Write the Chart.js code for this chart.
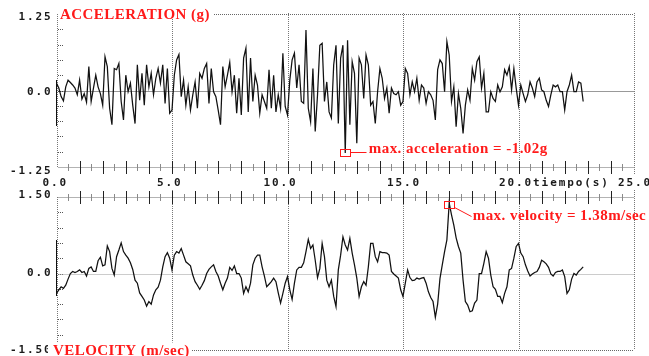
<!DOCTYPE html>
<html><head><meta charset="utf-8">
<script src="https://cdn.jsdelivr.net/npm/chart.js@4/dist/chart.umd.min.js"></script>
<style>
html,body{margin:0;padding:0;background:#fff;}
#wrap{position:relative;width:649px;height:356px;overflow:hidden;background:#fff;}
canvas{position:absolute;left:0;top:0;}
</style></head><body>
<div id="wrap"><canvas id="acc" width="649" height="356"></canvas><canvas id="vel" width="649" height="356"></canvas></div>
<script>
// sampling step of the records (s)
const DT = 0.1;
// acceleration record (g), one value every DT seconds from t = 0
const accG = [
 0.12, 0.04,-0.10,-0.17, 0.06, 0.17, 0.13, 0.09, 0.04,-0.07,
 0.17,-0.14,-0.05,-0.19, 0.39,-0.18, 0.04, 0.25, 0.06,-0.05,
-0.24, 0.55, 0.39,-0.29,-0.56, 0.36, 0.34, 0.44,-0.18,-0.48,
 0.25,-0.02, 0.12,-0.24,-0.54, 0.42,-0.16, 0.28,-0.24, 0.42,
 0.06, 0.28,-0.07, 0.20, 0.36, 0.12, 0.42,-0.21, 0.36,-0.37,
-0.32, 0.25, 0.50, 0.59,-0.10, 0.17,-0.24, 0.06,-0.32,-0.07,
 0.14,-0.29, 0.28, 0.20, 0.36, 0.44,-0.21, 0.36,-0.02,-0.10,
-0.32,-0.56, 0.39, 0.06, 0.25, 0.46,-0.02, 0.25,-0.37, 0.20,
-0.40, 0.53, 0.69,-0.35, 0.53,-0.18, 0.25, 0.09,-0.37,-0.07,
-0.18,-0.29, 0.34,-0.29, 0.25,-0.35,-0.07,-0.29, 0.61,-0.26,
-0.40, 0.17, 0.50, 0.61, 0.04, 0.42,-0.18,-0.21, 0.99,-0.29,
-0.51, 0.36,-0.67,-0.07, 0.74, 0.77,-0.18, 0.14,-0.35,-0.45,
 0.42, 0.74,-0.54, 0.53, 0.74,-1.02, 0.82,-0.56, 0.47, 0.28,
-0.86, 0.53, 0.42,-0.13, 0.58, 0.42,-0.24,-0.18,-0.54,-0.02,
 0.36, 0.20,-0.13, 0.04,-0.37, 0.04,-0.05,-0.07,-0.02,-0.24,
-0.18, 0.36, 0.28,-0.07, 0.14,-0.02, 0.20,-0.16, 0.09, 0.04,
-0.21,-0.02,-0.07,-0.16,-0.48, 0.34, 0.50, 0.44,-0.02, 0.80,
 0.58,-0.18, 0.06,-0.59,-0.05,-0.29,-0.70,-0.24, 0.01,-0.16,
 0.36, 0.17, 0.47, 0.55, 0.04, 0.28,-0.35,-0.35,-0.02,-0.13,
-0.18, 0.09,-0.02, 0.06, 0.34, 0.25, 0.39, 0.01, 0.36, 0.04,
-0.24, 0.09,-0.05,-0.18,-0.07, 0.14, 0.04,-0.10, 0.14, 0.20,
 0.01,-0.02,-0.16,-0.26,-0.07, 0.09, 0.06, 0.09,-0.02,-0.02,
-0.32,-0.02, 0.09, 0.25,-0.02,-0.02, 0.14, 0.12,-0.18
];
// velocity record (m/sec), one value every DT seconds from t = 0
const velMS = [
-0.39,-0.32,-0.26,-0.29,-0.23,-0.11, 0.00, 0.04, 0.02, 0.04,
 0.07, 0.02, 0.04,-0.05, 0.10, 0.13, 0.04, 0.04, 0.25, 0.32,
 0.15, 0.17, 0.54, 0.43, 0.10,-0.03, 0.33, 0.46, 0.60, 0.43,
 0.36, 0.30, 0.21, 0.08,-0.13,-0.19,-0.38,-0.45,-0.52,-0.64,
-0.55,-0.60,-0.42,-0.32,-0.27,-0.13, 0.13, 0.33, 0.41, 0.30,
 0.07, 0.36, 0.43, 0.40, 0.49, 0.36, 0.23, 0.19, 0.15,-0.03,
-0.16,-0.23,-0.31,-0.23,-0.14, 0.00, 0.08, 0.13, 0.17, 0.04,
-0.05,-0.19,-0.32,-0.19,-0.09, 0.12, 0.06, 0.15, 0.00, 0.00,
-0.09,-0.39,-0.26,-0.36,-0.19, 0.17, 0.30, 0.36, 0.36, 0.13,
-0.05,-0.26,-0.21,-0.16,-0.09,-0.16,-0.38,-0.58,-0.39,-0.19,
-0.06,-0.32,-0.51,-0.19, 0.07, 0.12, 0.12, 0.21, 0.43, 0.67,
 0.49, 0.56, 0.26,-0.08, 0.10, 0.59, 0.33,-0.13,-0.26,-0.13,
-0.45,-0.65, 0.07, 0.36, 0.72, 0.56, 0.46, 0.69, 0.40, 0.17,
-0.09,-0.45,-0.26,-0.16,-0.23, 0.13, 0.59, 0.59, 0.33, 0.23,
 0.43, 0.41, 0.41, 0.40, 0.36, 0.04,-0.01,-0.05,-0.09,-0.32,
-0.45,-0.19, 0.07,-0.08,-0.14,-0.13,-0.09,-0.11,-0.09,-0.08,
-0.19,-0.36,-0.47,-0.55,-0.86,-0.60,-0.10, 0.17, 0.43, 0.66,
 1.38, 1.15, 0.95, 0.70, 0.53, 0.40,-0.13,-0.55,-0.62,-0.75,
-0.73,-0.58,-0.52, 0.00, 0.00, 0.20, 0.43, 0.30,-0.03,-0.26,
-0.31,-0.45,-0.45,-0.57,-0.39,-0.26, 0.07, 0.10, 0.30, 0.53,
 0.59, 0.40, 0.33, 0.17, 0.05,-0.05,-0.01, 0.02, 0.04, 0.12,
 0.26, 0.23, 0.19, 0.12,-0.01,-0.05, 0.02, 0.04, 0.04, 0.07,
-0.06,-0.39,-0.32,-0.11, 0.00,-0.03, 0.04, 0.08, 0.13
];
// axis texts
const xTickValues = [0, 5, 10, 15, 20, 25];
const xTickLabels = ['0.0', '5.0', '10.0', '15.0', '20.0', '25.0'];
const xTitle = 'tiempo(s)';
const accYTicks = [1.25, 0, -1.25];
const accYLabels = ['1.25', '0.0', '-1.25'];
const velYTicks = [1.5, 0, -1.5];
const velYLabels = ['1.50', '0.0', '-1.50'];
const accTitle = 'ACCELERATION (g)';
const velTitle = 'VELOCITY (m/sec)';

const MONO = 'bold 11px "DejaVu Sans Mono", monospace';
const SERIF = 'bold 15px "Liberation Serif", "Times New Roman", serif';
const RED = '#ff1a1a';

function toPoints(arr){ return arr.map((v,i)=>({x: Math.round(i*DT*100)/100, y: v})); }
function peakIndex(arr){ let k=0; arr.forEach((v,i)=>{ if(Math.abs(v)>Math.abs(arr[k])) k=i; }); return k; }

function dotH(ctx,x1,x2,y,color){ ctx.save(); ctx.strokeStyle=color; ctx.lineWidth=1; ctx.setLineDash([1,1]); ctx.beginPath(); ctx.moveTo(x1,Math.round(y)+0.5); ctx.lineTo(x2,Math.round(y)+0.5); ctx.stroke(); ctx.restore(); }
function dotV(ctx,x,y1,y2,color){ ctx.save(); ctx.strokeStyle=color; ctx.lineWidth=1; ctx.setLineDash([1,1]); ctx.beginPath(); ctx.moveTo(Math.round(x)+0.5,y1); ctx.lineTo(Math.round(x)+0.5,y2); ctx.stroke(); ctx.restore(); }
function monoText(ctx,txt,x,y,align){ ctx.save(); ctx.font=MONO; ctx.fillStyle='#1a1a1a'; ctx.letterSpacing='1.9px'; ctx.textAlign=align||'left'; ctx.textBaseline='middle'; ctx.fillText(txt,x,y); ctx.restore(); }
function serifText(ctx,txt,x,y,bg){ ctx.save(); ctx.font=SERIF; ctx.letterSpacing='0.45px'; const w=ctx.measureText(txt).width; if(bg){ ctx.fillStyle='#fff'; ctx.fillRect(x-5,y-12,w+7,16); } ctx.fillStyle=RED; ctx.textBaseline='alphabetic'; ctx.fillText(txt,x,y); ctx.restore(); return w; }

function decor(cfg){
  return {
    id:'decor',
    beforeDatasetsDraw(chart){
      const ctx=chart.ctx, xs=chart.scales.x, ys=chart.scales.y, a=chart.chartArea;
      const L=a.left, R=a.right, T=a.top, B=a.bottom;
      // left axis
      dotV(ctx,L,T,B,'#777');
      ctx.fillStyle='#111'; ctx.fillRect(Math.round(L)-1,cfg.solid[0],1,cfg.solid[1]-cfg.solid[0]);
      // small y ticks
      ctx.fillStyle='#555';
      for(let i=1;i<10;i++){ const v=ys.min+(ys.max-ys.min)*i/10; const y=Math.round(ys.getPixelForValue(v)); ctx.fillRect(L+1.5,y,1,1); ctx.fillRect(L+3.5,y,1,1); ctx.fillRect(L+5.5,y,1,1); }
      // zero line
      dotH(ctx,L+2,R,ys.getPixelForValue(0),cfg.zeroColor);
      // frame line next to title
      dotH(ctx,cfg.frameX,R,cfg.frameY,'#666');
      // vertical grid
      xTickValues.slice(1).forEach(v=>dotV(ctx,xs.getPixelForValue(v),cfg.gridY[0],cfg.gridY[1],'#777'));
      // tick row
      const ty=cfg.tickRowY;
      dotH(ctx,L+2,R,ty,'#666');
      for(let h=1;h<50;h++){
        const x=Math.round(xs.getPixelForValue(h/2));
        if(h%2===0){ ctx.fillStyle='#222'; ctx.fillRect(x,ty-6,1,13); }
        else { ctx.fillStyle='#8a8a8a'; ctx.fillRect(x,ty-3,1,7); }
      }
    },
    afterDatasetsDraw(chart){
      const ctx=chart.ctx, xs=chart.scales.x, ys=chart.scales.y;
      // y labels
      cfg.yTicks.forEach((v,i)=>monoText(ctx,cfg.yLabels[i],52.5,ys.getPixelForValue(v)+cfg.yLabOff[i],'right'));
      // title
      serifText(ctx,cfg.title,cfg.titleX,cfg.titleY,cfg.titleBg);
      // x labels (drawn by top chart)
      if(cfg.xLabels){
        const offs=[-14,-15,-24,-16,-19.5,-16];
        xTickValues.forEach((v,i)=>monoText(ctx,xTickLabels[i],xs.getPixelForValue(v)+offs[i],183,'left'));
        ctx.save(); ctx.font=MONO; ctx.letterSpacing='1.9px';
        const w=ctx.measureText(xTickLabels[4]).width; ctx.restore();
        monoText(ctx,xTitle,xs.getPixelForValue(20)-19.5+w,183,'left');
      }
      // peak annotation
      const data=cfg.values, k=peakIndex(data);
      const px=xs.getPixelForValue(k*DT), py=ys.getPixelForValue(data[k]);
      ctx.save(); ctx.strokeStyle=RED; ctx.lineWidth=1;
      const bx=Math.round(px-5)+0.5, by=Math.round(py-3.5+cfg.boxDy)+0.5;
      ctx.strokeRect(bx,by,10,7);
      ctx.beginPath();
      if(cfg.diag){ ctx.moveTo(bx+10,by+6); ctx.lineTo(bx+27,by+15); }
      else { ctx.moveTo(bx+10,by+3); ctx.lineTo(bx+26,by+3); }
      ctx.stroke(); ctx.restore();
      serifText(ctx,cfg.annot(data[k]),px+cfg.textDx,py+cfg.textDy,false);
    }
  };
}

function makeChart(id,values,cfg,pad,yMin,yMax){
  return new Chart(document.getElementById(id),{
    type:'line',
    data:{datasets:[{data:toPoints(values),borderColor:'#111',borderWidth:1.25,pointRadius:0,tension:0,fill:false}]},
    options:{
      responsive:false, animation:false, events:[],
      layout:{padding:pad},
      scales:{x:{type:'linear',min:0,max:25,display:false},y:{type:'linear',min:yMin,max:yMax,display:false}},
      plugins:{legend:{display:false},tooltip:{enabled:false}}
    },
    plugins:[decor(cfg)]
  });
}

makeChart('acc',accG,{
  values:accG, solid:[80,126], zeroColor:'#333', frameX:214, frameY:14, gridY:[13,174], tickRowY:167,
  yTicks:accYTicks, yLabels:accYLabels, yLabOff:[3,2,4], title:accTitle, titleX:60, titleY:18.5, titleBg:false,
  xLabels:true, boxDy:0, diag:false, textDx:23.5, textDy:0.5,
  annot:v=>'max. acceleration = '+v.toFixed(2)+'g'
},{left:56.5,right:15,top:14,bottom:189},-1.25,1.25);

makeChart('vel',velMS,{
  values:velMS, solid:[240,296], zeroColor:'#999', frameX:190, frameY:350, gridY:[190,350], tickRowY:197,
  yTicks:velYTicks, yLabels:velYLabels, yLabOff:[-2,0,0], title:velTitle, titleX:53, titleY:354.5, titleBg:true,
  xLabels:false, boxDy:1.5, diag:true, textDx:23.5, textDy:16.5,
  annot:v=>'max. velocity = '+v.toFixed(2)+'m/sec'
},{left:56.5,right:15,top:197,bottom:6},-1.5,1.5);
</script>
</body></html>
